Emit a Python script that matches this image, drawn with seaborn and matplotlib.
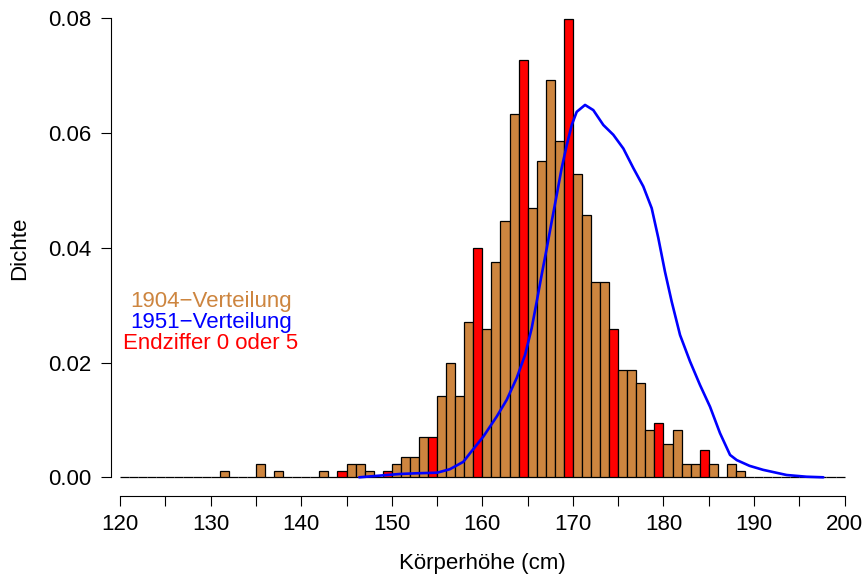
import numpy as np
import pandas as pd
import matplotlib
matplotlib.use("Agg")
import matplotlib.pyplot as plt
import seaborn as sns

# 1904 survey: body height (cm, upper bin edge) and number of persons
heights_1904 = [132, 136, 138, 143, 145, 146, 147, 148, 150, 151, 152, 153,
                154, 155, 156, 157, 158, 159, 160, 161, 162, 163, 164, 165,
                166, 167, 168, 169, 170, 171, 172, 173, 174, 175, 176, 177,
                178, 179, 180, 181, 182, 183, 184, 185, 186, 188, 189]
counts_1904 = [1, 2, 1, 1, 1, 2, 2, 1, 1, 2, 3, 3,
               6, 6, 12, 17, 12, 23, 34, 22, 32, 38, 54, 62,
               40, 47, 59, 50, 68, 45, 39, 29, 29, 22, 16, 16,
               14, 7, 8, 5, 7, 2, 2, 4, 2, 2, 1]

# 1951 survey: smoothed density curve
x_1951 = [146.4, 149.1, 150.9, 152.75, 155.0, 156.4, 157.9, 158.64, 160.11,
          161.59, 162.69, 163.79, 164.71, 165.45, 166.0, 166.55, 167.11,
          167.66, 168.21, 168.76, 169.32, 169.87, 170.42, 171.34, 172.25,
          173.36, 174.46, 175.57, 176.67, 177.77, 178.7, 179.43, 180.17,
          180.91, 181.83, 182.93, 184.03, 185.14, 186.24, 187.35, 188.09,
          189.5, 191.0, 193.6, 195.8, 197.65]
dens_1951 = [0.0, 0.00035, 0.00058, 0.0007, 0.0008, 0.0014, 0.0027, 0.0042,
             0.0071, 0.0106, 0.0135, 0.0173, 0.0213, 0.0260, 0.0306, 0.0353,
             0.0399, 0.0446, 0.0492, 0.0539, 0.0579, 0.0614, 0.0637, 0.0649,
             0.0640, 0.0614, 0.0597, 0.0573, 0.0539, 0.0507, 0.0469, 0.0417,
             0.0358, 0.0306, 0.0248, 0.0202, 0.0161, 0.0123, 0.0077, 0.0039,
             0.0030, 0.0020, 0.0013, 0.0004, 0.0001, 0.0]

x_ticks = [120, 130, 140, 150, 160, 170, 180, 190, 200]
y_ticks = [0.00, 0.02, 0.04, 0.06, 0.08]

sns.set_theme(style="ticks")
plt.rcParams["font.family"] = ["Liberation Sans", "DejaVu Sans"]
plt.rcParams["font.size"] = 16
plt.rcParams["text.color"] = "black"
plt.rcParams["xtick.color"] = "black"
plt.rcParams["ytick.color"] = "black"
plt.rcParams["xtick.labelcolor"] = "black"
plt.rcParams["ytick.labelcolor"] = "black"

df_1904 = pd.DataFrame({"mid": np.array(heights_1904, dtype=float) - 0.5,
                        "n": np.array(counts_1904, dtype=float)})
df_1951 = pd.DataFrame({"x": x_1951, "dens": dens_1951})

fig = plt.figure(figsize=(8.64, 5.77), dpi=100)
W, H = 864, 577
left_px, right_px, top_px, bot_px = 111.3, 850, 10, 495.7
ax = fig.add_axes([left_px / W, 1 - bot_px / H,
                   (right_px - left_px) / W, (bot_px - top_px) / H])

sns.histplot(data=df_1904, x="mid", weights="n", binwidth=1,
             binrange=(120, 200), stat="density", color="#CD853F", alpha=1,
             edgecolor="black", linewidth=0.9, ax=ax)
for p in ax.patches:
    right = int(round(p.get_x() + p.get_width()))
    if right % 5 == 0:
        p.set_facecolor("#FF0000")

sns.lineplot(data=df_1951, x="x", y="dens", color="#0000FF", linewidth=1.9,
             sort=False, estimator=None, ax=ax)

# x: 120 -> 120.1 px, 200 -> 844.6 px ; y: 0 -> 477.3 px, 0.08 -> 18.3 px
xs = (844.6 - 120.1) / 80
ys = (477.3 - 18.3) / 0.08
ax.set_xlim(120 - (120.1 - left_px) / xs, 200 + (right_px - 844.6) / xs)
ax.set_ylim(-(bot_px - 477.3) / ys, 0.08 + (18.3 - top_px) / ys)

ax.set_xticks(x_ticks)
ax.set_xticks(np.arange(125, 200, 10), minor=True)
ax.set_yticks(y_ticks)
ax.set_yticklabels([f"{v:.2f}" for v in y_ticks])
ax.tick_params(axis="both", which="both", length=7.2, width=0.8,
               color="black", labelcolor="black", labelsize=16)
ax.tick_params(axis="x", pad=6)
ax.tick_params(axis="y", pad=7)
for s in ("top", "right"):
    ax.spines[s].set_visible(False)
ax.spines["left"].set_bounds(0, 0.08)
ax.spines["bottom"].set_bounds(120, 200)
for s in ("left", "bottom"):
    ax.spines[s].set_linewidth(0.8)
    ax.spines[s].set_color("black")
ax.set_xlabel("")
ax.set_ylabel("")

fig.text(20 / W, 1 - 248 / H, "Dichte", rotation=90, ha="center", va="center",
         fontsize=16, color="black")
fig.text(482 / W, 1 - 564 / H, "Körperhöhe (cm)", ha="center", va="center",
         fontsize=16, color="black")

ax.text(130, 0.0307, "1904\u2212Verteilung", color="#CD853F", ha="center",
        va="center", fontsize=16)
ax.text(130, 0.0269, "1951\u2212Verteilung", color="#0000FF", ha="center",
        va="center", fontsize=16)
ax.text(130, 0.0233, "Endziffer 0 oder 5", color="#FF0000", ha="center",
        va="center", fontsize=16)

fig.savefig("out.png", dpi=100)
